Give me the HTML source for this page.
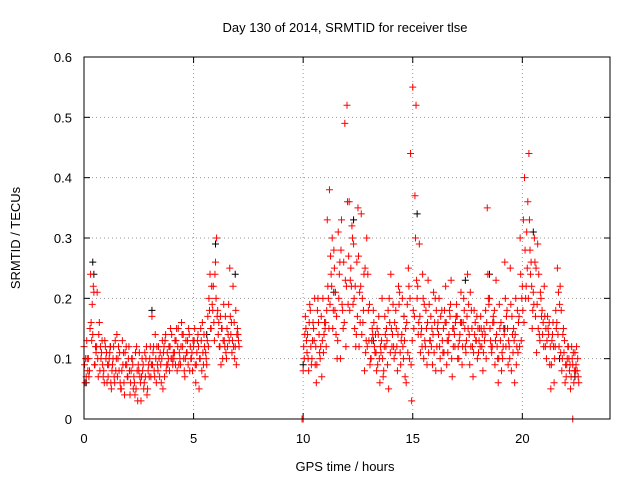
<!DOCTYPE html>
<html><head><meta charset="utf-8"><style>
body{margin:0;background:#fff}
svg{font-family:"Liberation Sans",sans-serif;font-size:13px}
</style></head><body>
<svg id="c" width="640" height="480">
<rect width="640" height="480" fill="#fff"/>
<text x="345" y="32" text-anchor="middle">Day 130 of 2014, SRMTID for receiver tlse</text>
<text x="345" y="471" text-anchor="middle">GPS time / hours</text>
<text transform="translate(20,238) rotate(-90)" text-anchor="middle">SRMTID / TECUs</text>
<g id="grid"></g><g id="ticks"></g><g id="marks"></g>
<rect x="84" y="57" width="526" height="362" fill="none" stroke="#000"/>
</svg>
<script>
const xTicks=[0,5,10,15,20];
const yTicks=[0,0.1,0.2,0.3,0.4,0.5,0.6];
const yTickLabels=["0","0.1","0.2","0.3","0.4","0.5","0.6"];
const seg1Range=[0,0.1];
const seg2Range=[10,0.1];
const seg1A=[.12,.07,.10,.24,.14,.09,.21,.16,.11,.08,.10,.07,.12,.09,.06,.14,.08,.05,.11,.09,.07,.04,.10,.06,.12,.08,.03,.09,.07,.05,.10,.17,.08,.06,.12,.09,.05,.13,.11,.08,.14,.10,.13,.15,.09,.12,.07,.11,.14,.10,.12,.06,.14,.10,.16,.12,.09,.20,.15,.22,.26,.18,.12,.15,.13,.10,.19,.14,.22,.12,.15];
const seg1B=[.06,.10,.08,.13,.21,.11,.07,.12,.09,.13,.06,.10,.05,.12,.08,.10,.06,.13,.04,.09,.12,.08,.05,.11,.03,.07,.10,.06,.12,.09,.07,.11,.14,.09,.07,.10,.12,.08,.10,.15,.09,.13,.08,.11,.16,.10,.13,.09,.12,.08,.15,.11,.05,.13,.09,.11,.17,.24,.19,.13,.30,.16,.09,.13,.17,.12,.25,.11,.16,.09,.13];
const seg1C=[.09,.13,.07,.16,.22,.12,.10,.08,.13,.06,.11,.09,.06,.10,.13,.07,.11,.08,.06,.12,.10,.06,.09,.04,.08,.11,.07,.05,.10,.08,.12,.09,.07,.12,.10,.06,.11,.14,.09,.12,.10,.11,.15,.09,.12,.14,.10,.13,.08,.11,.13,.09,.12,.15,.11,.07,.13,.18,.22,.16,.20,.14,.17,.10,.12,.15,.13,.16,.12,.18,.14];
const seg1D=[.10,.08,.15,.19,.09,.12,.14,.10,.07,.12,.09,.11,.08,.07,.10,.12,.05,.09,.11,.07,.08,.10,.07,.05,.09,.06,.08,.11,.04,.07,.09,.12,.10,.08,.11,.13,.07,.09,.12,.10,.11,.09,.12,.10,.14,.08,.11,.15,.10,.13,.09,.13,.10,.08,.14,.10,.12,.15,.18,.24,.17,.12,.15,.19,.11,.14,.17,.13,.10,.14,.12];
const seg2A=[.08,.17,.14,.19,.10,.13,.06,.16,.12,.20,.15,.33,.38,.22,.28,.14,.31,.10,.18,.49,.52,.36,.22,.29,.12,.35,.16,.20,.08,.30,.13,.10,.18,.14,.09,.06,.20,.12,.15,.05,.24,.19,.11,.08,.21,.14,.17,.06,.25,.44,.55,.37,.20,.29,.15,.10,.18,.23,.13,.09,.16,.12,.20,.08,.15,.22,.11,.17,.07,.14,.19,.10,.21,.16,.12,.24,.09,.15,.18,.13,.11,.17,.08,.14,.35,.20,.11,.16,.23,.06,.13,.10,.26,.18,.12,.08,.15,.20,.11,.30,.22,.40,.31,.44,.26,.21,.17,.29,.13,.18,.22,.10,.14,.05,.16,.12,.25,.19,.08,.11,.07,.12,.05,.09,.11,.08];
const seg2B=[.10,.13,.08,.12,.16,.09,.18,.11,.07,.14,.12,.20,.27,.15,.18,.10,.24,.33,.26,.12,.19,.23,.30,.15,.26,.12,.34,.18,.11,.24,.09,.15,.12,.08,.17,.11,.07,.14,.09,.16,.12,.10,.15,.22,.09,.12,.07,.19,.10,.03,.15,.52,.14,.11,.24,.13,.09,.19,.12,.21,.08,.16,.10,.13,.18,.09,.14,.23,.12,.16,.10,.14,.09,.18,.13,.19,.12,.07,.16,.10,.15,.12,.15,.10,.20,.13,.16,.09,.12,.19,.08,.15,.12,.09,.25,.14,.06,.12,.17,.13,.33,.20,.36,.28,.15,.30,.11,.24,.20,.16,.12,.17,.09,.13,.06,.15,.21,.11,.14,.06,.10,.08,.12,.06,.09,.07];
const seg2C=[.12,.15,.10,.18,.13,.20,.09,.14,.17,.11,.16,.22,.19,.30,.25,.17,.20,.28,.15,.23,.36,.18,.32,.20,.14,.27,.22,.16,.25,.12,.19,.13,.16,.11,.14,.12,.10,.17,.13,.20,.15,.12,.18,.14,.11,.20,.13,.16,.22,.09,.18,.30,.22,.17,.12,.19,.15,.11,.17,.14,.20,.15,.12,.18,.11,.16,.13,.19,.15,.12,.17,.13,.16,.20,.11,.15,.21,.12,.14,.17,.13,.15,.11,.18,.24,.15,.12,.18,.14,.10,.16,.12,.20,.15,.10,.17,.13,.09,.16,.24,.18,.28,.25,.33,.22,.19,.25,.15,.21,.14,.17,.13,.16,.09,.12,.18,.14,.22,.10,.13,.09,.10,.07,.11,.08,.10];
const seg2D=[.14,.11,.16,.09,.15,.12,.20,.10,.13,.16,.18,.15,.24,.18,.21,.13,.26,.19,.16,.22,.27,.25,.19,.22,.17,.21,.14,.24,.13,.18,.10,.14,.11,.15,.10,.13,.08,.12,.18,.11,.14,.16,.12,.19,.13,.10,.15,.11,.20,.13,.17,.23,.16,.14,.20,.12,.16,.13,.15,.11,.18,.14,.17,.11,.16,.13,.18,.10,.15,.17,.12,.16,.12,.15,.17,.14,.18,.11,.13,.15,.12,.14,.13,.16,.19,.12,.17,.13,.10,.15,.11,.14,.17,.13,.19,.11,.14,.18,.12,.20,.16,.22,.20,.24,.18,.26,.19,.14,.17,.12,.15,.15,.12,.14,.10,.16,.12,.18,.15,.09,.12,.09,.10,.08,.12,.06];
const blackT=[0.1,0.4,0.45,1.2,3.1,5.6,6.0,6.9,10.0,11.4,12.3,13.2,14.6,15.2,17.4,18.5,19.2,20.5,21.7,22.4];
const blackV=[0.06,0.26,0.24,0.12,0.18,0.14,0.29,0.24,0.09,0.21,0.33,0.13,0.17,0.34,0.23,0.24,0.15,0.31,0.10,0.07];
const zeroT=[9.95,10.0,22.3];
const zeroV=[0,0,0];
const NS="http://www.w3.org/2000/svg";
const X=t=>84+t*526/24, Y=v=>419-v*362/0.6;
function mk(tag,attrs,parent){const e=document.createElementNS(NS,tag);for(const k in attrs)e.setAttribute(k,attrs[k]);parent.appendChild(e);return e;}
const grid=document.getElementById('grid'),ticks=document.getElementById('ticks'),marks=document.getElementById('marks');
yTicks.forEach((v,i)=>{const y=Y(v);
 if(i>0&&i<yTicks.length-1){const g=mk('line',{x1:84,x2:610,y1:y,y2:y,stroke:'#999','stroke-dasharray':'1,3'},grid);
 
 }
 mk('line',{x1:84,x2:90,y1:y,y2:y,stroke:'#000'},ticks);mk('line',{x1:604,x2:610,y1:y,y2:y,stroke:'#000'},ticks);
 const t=mk('text',{x:72,y:y+5,'text-anchor':'end'},ticks);t.textContent=yTickLabels[i];
 
 });
xTicks.forEach(v=>{const x=X(v);
 if(v>0){const g=mk('line',{x1:x,x2:x,y1:57,y2:419,stroke:'#999','stroke-dasharray':'1,3'},grid);
 
 }
 mk('line',{x1:x,x2:x,y1:419,y2:413,stroke:'#000'},ticks);mk('line',{x1:x,x2:x,y1:57,y2:63,stroke:'#000'},ticks);
 const t=mk('text',{x:x,y:443,'text-anchor':'middle'},ticks);t.textContent=v;
 
 });
function plus(t,v,col,name){const x=X(t),y=Y(v);
 const p=mk('path',{d:`M${x-3.5},${y}h7M${x},${y-3.5}v7`,stroke:col,'stroke-width':1,fill:'none'},marks);
 
 }
blackT.forEach((t,i)=>plus(t,blackV[i],'#000','black-point'));
[[seg1Range,seg1A,0],[seg1Range,seg1B,0.05],[seg1Range,seg1C,0.025],[seg1Range,seg1D,0.075],
 [seg2Range,seg2A,0],[seg2Range,seg2B,0.05],[seg2Range,seg2C,0.025],[seg2Range,seg2D,0.075]].forEach(([r,vals,off])=>{
 vals.forEach((v,i)=>plus(r[0]+i*r[1]+off,v,'#f00','red-point'));});
zeroT.forEach((t,i)=>plus(t,zeroV[i],'#f00','red-point'));
</script>
</body></html>
